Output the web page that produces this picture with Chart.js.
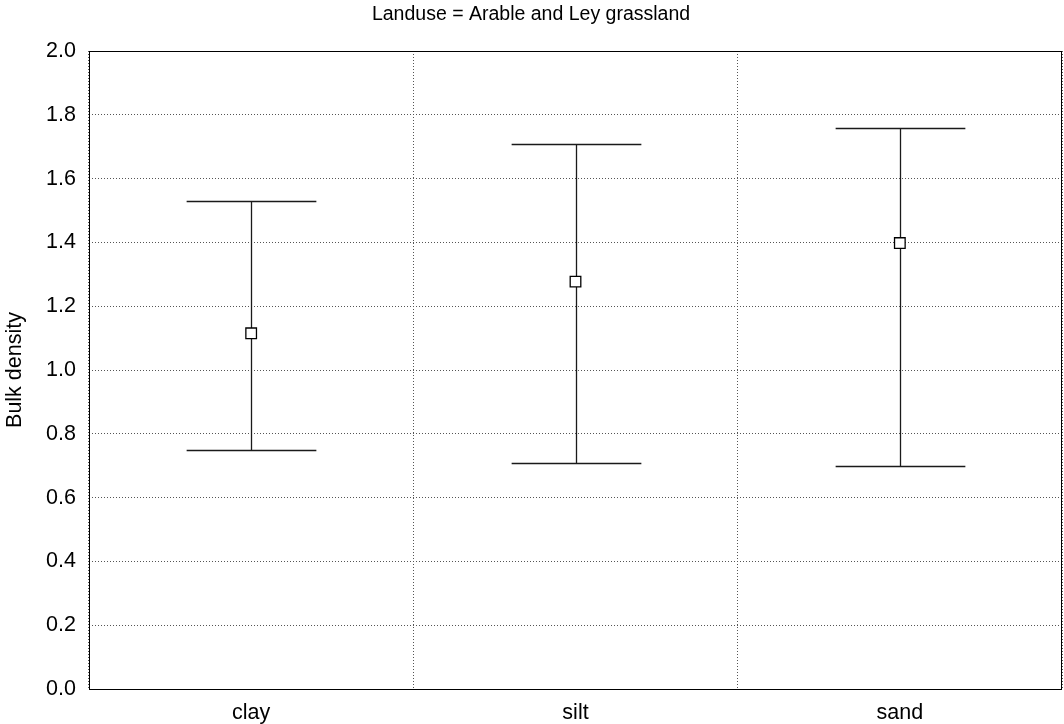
<!DOCTYPE html>
<html>
<head>
<meta charset="utf-8">
<script src="https://cdn.jsdelivr.net/npm/chart.js@4/dist/chart.umd.min.js"></script>
<style>
  html, body { margin: 0; padding: 0; background: #fff; overflow: hidden; }
  #wrap { width: 1064px; height: 724px; }
  canvas { display: block; }
</style>
</head>
<body>
<div id="wrap"><canvas id="c" width="1064" height="724"></canvas></div>
<script>
// Soil texture classes and bulk density summary (mean with lower/upper whiskers)
const categories = ['clay', 'silt', 'sand'];
const means = [1.115, 1.277, 1.398];
const lowerVals = [0.750, 0.709, 0.699];
const upperVals = [1.530, 1.709, 1.759];
const yTicks = [0.0, 0.2, 0.4, 0.6, 0.8, 1.0, 1.2, 1.4, 1.6, 1.8, 2.0];

const FONT = 'Liberation Sans, Arial, sans-serif';

// Whiskers with end caps, drawn beneath the mean markers
const whiskerPlugin = {
  id: 'whiskers',
  beforeDatasetsDraw(chart) {
    const { ctx, scales: { x, y } } = chart;
    ctx.save();
    ctx.strokeStyle = '#1a1a1a';
    ctx.lineWidth = 1.3;
    const capHalf = x.width / categories.length * 0.2;
    categories.forEach((c, i) => {
      const px = Math.round(x.getPixelForValue(i)) + 0.5;
      const yl = Math.round(y.getPixelForValue(lowerVals[i])) + 0.5;
      const yu = Math.round(y.getPixelForValue(upperVals[i])) + 0.5;
      ctx.beginPath();
      ctx.moveTo(px, yl); ctx.lineTo(px, yu);
      ctx.moveTo(px - capHalf, yu); ctx.lineTo(px + capHalf, yu);
      ctx.moveTo(px - capHalf, yl); ctx.lineTo(px + capHalf, yl);
      ctx.stroke();
    });
    ctx.restore();
  },
  afterDraw(chart) {
    // solid frame around the plotting area
    const { ctx, chartArea: a } = chart;
    ctx.save();
    ctx.strokeStyle = '#000';
    ctx.lineWidth = 1;
    ctx.strokeRect(Math.round(a.left) + 0.5, Math.round(a.top) + 0.5,
                   Math.round(a.right - a.left) - 1, Math.round(a.bottom - a.top));
    ctx.restore();
  }
};

new Chart(document.getElementById('c'), {
  type: 'line',
  data: {
    labels: categories,
    datasets: [{
      data: means,
      showLine: false,
      pointStyle: 'rect',
      pointRadius: 7.5,
      pointHoverRadius: 7.5,
      pointBackgroundColor: '#fff',
      pointBorderColor: '#000',
      pointBorderWidth: 1.3
    }]
  },
  options: {
    responsive: false,
    animation: false,
    devicePixelRatio: 1,
    events: [],
    layout: { autoPadding: false, padding: { left: 0, right: 2, top: 0, bottom: 0 } },
    plugins: {
      legend: { display: false },
      tooltip: { enabled: false },
      title: {
        display: true,
        text: 'Landuse = Arable and Ley grassland',
        color: '#000',
        font: { family: FONT, size: 19.5, weight: 'normal' },
        padding: { top: 3, bottom: 24.6 }
      }
    },
    scales: {
      x: {
        type: 'category',
        offset: true,
        grid: {
          offset: true,
          color: '#555',
          lineWidth: 1,
          drawTicks: false
        },
        border: { display: false, dash: [1, 2] },
        ticks: {
          color: '#000',
          font: { family: FONT, size: 21.5 },
          padding: 11
        },
        afterFit(s) {
          s.height = 35;
          s.paddingLeft = 0;
          s.paddingRight = 0;
        }
      },
      y: {
        min: 0,
        max: 2,
        afterBuildTicks(s) { s.ticks = yTicks.map(v => ({ value: v })); },
        grid: {
          color: '#555',
          lineWidth: 1,
          drawTicks: false
        },
        border: { display: false, dash: [1, 2] },
        ticks: {
          color: '#000',
          font: { family: FONT, size: 21.5 },
          padding: 13,
          callback: v => Number(v).toFixed(1)
        },
        title: {
          display: true,
          text: 'Bulk density',
          color: '#000',
          font: { family: FONT, size: 21.5 },
          padding: { top: 2, bottom: 0 }
        },
        afterFit(s) {
          s.width = 89;
          s.paddingTop = 0;
          s.paddingBottom = 0;
        }
      }
    }
  },
  plugins: [whiskerPlugin]
});
</script>
</body>
</html>
